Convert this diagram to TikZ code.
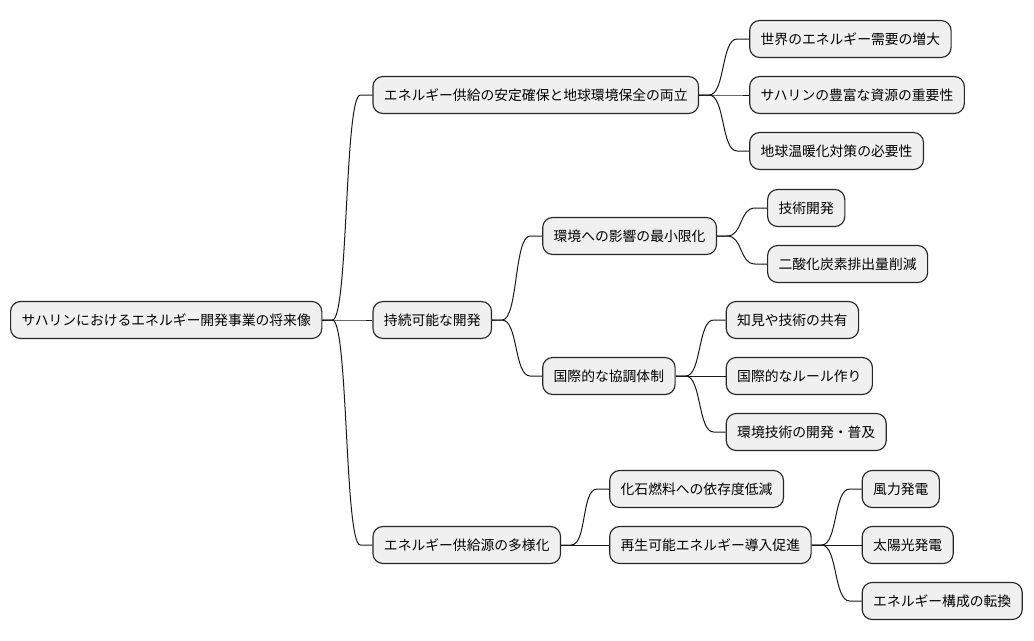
\documentclass[tikz,border=0pt]{standalone}
\usepackage{fontspec}
\setmainfont{Noto Sans CJK JP}
\usetikzlibrary{calc}
\tikzset{
  box/.style={draw=black!85, line width=0.85pt, fill=black!6, rounded corners=7.5pt,
    minimum height=27.75pt, inner xsep=8.25pt, inner ysep=0pt, anchor=west,
    font=\fontsize{10.35pt}{12pt}\selectfont, text=black},
  edge/.style={draw=black!90, line width=0.75pt}
}
\newcommand\mmconn[2]{%
  \path (#1.east) ++(10,0) coordinate (p1);
  \path (#2.west) ++(-12,0) coordinate (p2);
  \draw[edge] (#1.east) -- (p1) .. controls ($(p1)+(16,0)$) and ($(p2)+(-16,0)$) .. (p2) -- (#2.west);
}
\begin{document}
\begin{tikzpicture}[x=0.75pt,y=-0.75pt]
\useasboundingbox (0,0) rectangle (1034,640);
\node[box] (root) at (10,320) {サハリンにおけるエネルギー開発事業の将来像};
\node[box] (a) at ($(root.east |- 0,95)+(50,0)$) {エネルギー供給の安定確保と地球環境保全の両立};
\node[box] (b) at ($(root.east |- 0,320)+(50,0)$) {持続可能な開発};
\node[box] (c) at ($(root.east |- 0,545)+(50,0)$) {エネルギー供給源の多様化};
\node[box] (a1) at ($(a.east |- 0,39)+(50,0)$) {世界のエネルギー需要の増大};
\node[box] (a2) at ($(a.east |- 0,95)+(50,0)$) {サハリンの豊富な資源の重要性};
\node[box] (a3) at ($(a.east |- 0,151)+(50,0)$) {地球温暖化対策の必要性};
\node[box] (b1) at ($(b.east |- 0,236)+(50,0)$) {環境への影響の最小限化};
\node[box] (b2) at ($(b.east |- 0,376)+(50,0)$) {国際的な協調体制};
\node[box] (b11) at ($(b1.east |- 0,208)+(50,0)$) {技術開発};
\node[box] (b12) at ($(b1.east |- 0,264)+(50,0)$) {二酸化炭素排出量削減};
\node[box] (b21) at ($(b2.east |- 0,320)+(50,0)$) {知見や技術の共有};
\node[box] (b22) at ($(b2.east |- 0,376)+(50,0)$) {国際的なルール作り};
\node[box] (b23) at ($(b2.east |- 0,432)+(50,0)$) {環境技術の開発・普及};
\node[box] (c1) at ($(c.east |- 0,489)+(48,0)$) {化石燃料への依存度低減};
\node[box] (c2) at ($(c.east |- 0,545)+(48,0)$) {再生可能エネルギー導入促進};
\node[box] (c21) at ($(c2.east |- 0,489)+(50,0)$) {風力発電};
\node[box] (c22) at ($(c2.east |- 0,545)+(50,0)$) {太陽光発電};
\node[box] (c23) at ($(c2.east |- 0,601)+(50,0)$) {エネルギー構成の転換};
\mmconn{root}{a}
\mmconn{root}{b}
\mmconn{root}{c}
\mmconn{a}{a1}
\mmconn{a}{a2}
\mmconn{a}{a3}
\mmconn{b}{b1}
\mmconn{b}{b2}
\mmconn{b1}{b11}
\mmconn{b1}{b12}
\mmconn{b2}{b21}
\mmconn{b2}{b22}
\mmconn{b2}{b23}
\mmconn{c}{c1}
\mmconn{c}{c2}
\mmconn{c2}{c21}
\mmconn{c2}{c22}
\mmconn{c2}{c23}
\end{tikzpicture}
\end{document}
